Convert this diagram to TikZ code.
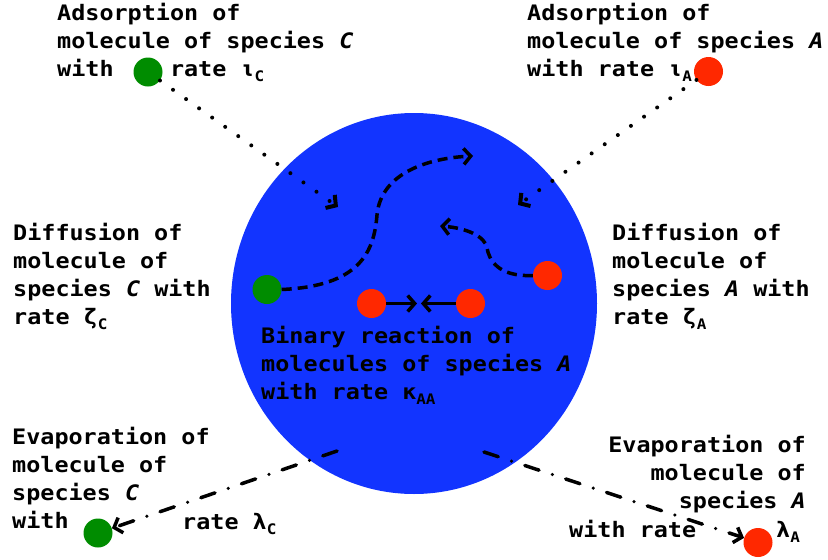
\documentclass[tikz,border=0pt]{standalone}
\usepackage{fontspec}
\setmonofont[FakeStretch=1.1]{DejaVu Sans Mono}
\usepackage{tikz}
\usetikzlibrary{arrows.meta, positioning}
\definecolor{discblue}{RGB}{18,52,255}
\definecolor{specC}{RGB}{0,140,0}
\definecolor{specA}{RGB}{255,40,0}
\newcommand{\lowidx}[1]{\raisebox{-5pt}{\fontsize{14.5}{14.5}\selectfont #1}}
\newcommand{\spc}[1]{{\itshape #1}}
\tikzset{
  txt/.style={font=\ttfamily\bfseries\fontsize{21.3}{28}\selectfont,
    align=left, inner sep=0pt, anchor=base west},
  molC/.style={circle, fill=specC, minimum size=29pt, inner sep=0pt},
  molA/.style={circle, fill=specA, minimum size=29pt, inner sep=0pt},
  tip/.style={-{Straight Barb[length=7pt, width=16pt]}},
  adsorb/.style={tip, line width=4pt, line cap=round,
    dash pattern=on 0pt off 16pt},
  diffuse/.style={tip, line width=3.5pt, dash pattern=on 10pt off 6pt},
  evap/.style={tip, line width=3.5pt, line cap=round,
    dash pattern=on 15pt off 14pt on 0pt off 14pt},
  react/.style={tip, line width=3.5pt}
}
\begin{document}
\begin{tikzpicture}[x=1pt, y=-1pt]
  \useasboundingbox (0,0) rectangle (828,560);
  % Surface
  \fill[discblue] (414,303.5) ellipse [x radius=183, y radius=190.5];
  % Molecules
  \node[molC] (dotAdsC) at (148,72) {};
  \node[molA] (dotAdsA) at (708.5,71.5) {};
  \node[molC] (dotDifC) at (267,289.5) {};
  \node[molA] (dotDifA) at (547.5,275.5) {};
  \node[molA] (dotBinL) at (371.5,303.5) {};
  \node[molA] (dotBinR) at (470.5,303.5) {};
  \node[molC] (dotEvC) at (98,533) {};
  \node[molA] (dotEvA) at (758,542.5) {};
  % Free ends
  \coordinate (endAdsC) at (338,207);
  \coordinate (endAdsA) at (518,205);
  \coordinate (endDifC) at (473,156);
  \coordinate (endDifA) at (440,226);
  \coordinate (meetL) at (417,303.5);
  \coordinate (meetR) at (421,303.5);
  \coordinate (startEvC) at (337,451);
  \coordinate (startEvA) at (484,452);
  % Adsorption
  \draw[adsorb] (dotAdsC) -- (endAdsC);
  \draw[adsorb] (dotAdsA) -- (endAdsA);
  % Diffusion
  \draw[diffuse] (dotDifC.east) .. controls (360,286) and (374,252) .. (377,215)
    .. controls (381,172) and (430,158) .. (endDifC);
  \draw[diffuse] (dotDifA.west) .. controls (497,277) and (489,259) .. (487,248)
    .. controls (485,236) and (466,228) .. (endDifA);
  % Binary reaction
  \draw[react] (dotBinL) -- (meetL);
  \draw[react] (dotBinR) -- (meetR);
  % Evaporation
  \draw[evap] (startEvC) -- (dotEvC);
  \draw[evap] (startEvA) -- (dotEvA);
  % Labels (anchored at the baseline of the last line)
  \node[txt] (txtAdsC) at (57,76)
    {Adsorption of\\molecule of species \spc{C}\\with\phantom{xxxx}rate ι\lowidx{C}};
  \node[txt] (txtAdsA) at (527,76)
    {Adsorption of\\molecule of species \spc{A}\\with rate ι\lowidx{A}};
  \node[txt] (txtDifC) at (13,324)
    {Diffusion of\\molecule of\\species \spc{C} with\\rate ζ\lowidx{C}};
  \node[txt] (txtDifA) at (612,324)
    {Diffusion of\\molecule of\\species \spc{A} with\\rate ζ\lowidx{A}};
  \node[txt] (txtBin) at (261,399)
    {Binary reaction of\\molecules of species \spc{A}\\with rate κ\lowidx{AA}};
  \node[txt] (txtEvC) at (12,528)
    {Evaporation of\\molecule of\\species \spc{C}\\with};
  \node[txt] (txtEvCrate) at (182,529) {rate λ\lowidx{C}};
  \node[txt, align=right, anchor=base east] (txtEvA) at (806,508)
    {Evaporation of\\molecule of\\species \spc{A}};
  \node[txt] (txtEvArate) at (569,537) {with rate};
  \node[txt] (txtEvAidx) at (776,537) {λ\lowidx{A}};
\end{tikzpicture}
\end{document}
